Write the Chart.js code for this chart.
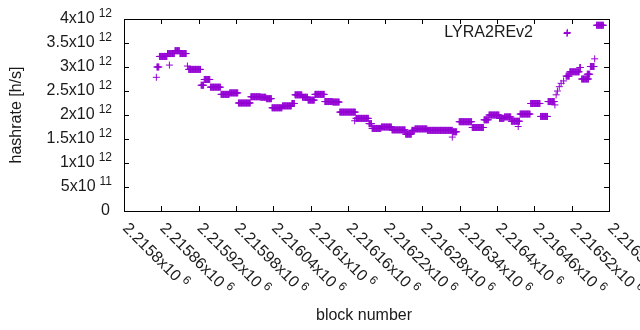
<!DOCTYPE html>
<html>
<head>
<meta charset="utf-8">
<script src="https://cdn.jsdelivr.net/npm/chart.js@4/dist/chart.umd.min.js"></script>
<style>
  html, body { margin: 0; padding: 0; background: #fff; }
  #wrap { width: 640px; height: 330px; position: relative; }
</style>
</head>
<body>
<div id="wrap"><canvas id="c"></canvas></div>
<script>
// LYRA2REv2 hashrate per block, gnuplot-style scatter of "+" marks.
// The hashrate stays flat for runs of blocks, so the data is kept as runs
// (offset from block 2215800, first block, last block, value in 10^12 h/s).
const seriesLabel = 'LYRA2REv2';
const blockBase = 2215800;
const runStart = [52, 53, 57, 70, 73, 82, 90, 102, 104, 124, 129, 139, 156, 170, 184, 204, 220, 229,
  238, 255, 270, 275, 287, 296, 307, 323, 336, 347, 371, 373, 394, 399, 414, 431, 453, 463, 468, 488,
  528, 529, 539, 560, 579, 587, 604, 612, 623, 634, 637, 654, 670, 682, 693, 695, 697, 700, 703, 707,
  711, 717, 733, 713, 736, 745, 750, 757, 760];
const runEnd = [52, 56, 69, 81, 73, 89, 100, 102, 123, 128, 138, 155, 169, 183, 203, 219, 228, 237,
  254, 269, 274, 286, 295, 306, 322, 335, 346, 372, 371, 393, 398, 413, 430, 452, 462, 467, 487, 528,
  528, 535, 559, 578, 586, 603, 611, 622, 636, 634, 653, 669, 681, 692, 693, 695, 697, 700, 703, 707,
  716, 732, 734, 713, 747, 749, 756, 757, 771];
const runValue = [2.785, 3.00, 3.22, 3.28, 3.04, 3.34, 3.28, 3.02, 2.95, 2.62, 2.74, 2.58, 2.43, 2.46,
  2.25, 2.38, 2.37, 2.34, 2.15, 2.19, 2.24, 2.42, 2.37, 2.31, 2.43, 2.28, 2.27, 2.06, 1.88, 1.93, 1.82,
  1.72, 1.75, 1.69, 1.60, 1.68, 1.71, 1.68, 1.54, 1.65, 1.86, 1.74, 1.90, 2.00, 1.93, 1.96, 1.87, 1.76,
  2.02, 2.24, 1.97, 2.28, 2.21, 2.42, 2.50, 2.59, 2.66, 2.71, 2.81, 2.90, 2.99, 3.72, 2.75, 2.85, 3.01,
  3.17, 3.87];

const xTicks = [2215800, 2215860, 2215920, 2215980, 2216040, 2216100, 2216160, 2216220, 2216280,
  2216340, 2216400, 2216460, 2216520, 2216580];
const xTickText = ['2.2158', '2.21586', '2.21592', '2.21598', '2.21604', '2.2161', '2.21616', '2.21622',
  '2.21628', '2.21634', '2.2164', '2.21646', '2.21652', '2.21658'];
const yTicks = [0, 5e11, 1e12, 1.5e12, 2e12, 2.5e12, 3e12, 3.5e12, 4e12];
const yTickText = ['0', '5x10', '1x10', '1.5x10', '2x10', '2.5x10', '3x10', '3.5x10', '4x10'];
const yTickExp = ['', '11', '12', '12', '12', '12', '12', '12', '12'];

const purple = '#9400d3';
const FONT = '"Liberation Sans", Arial, sans-serif';

// one point per block inside each run
const points = [];
for (let i = 0; i < runStart.length; i++) {
  for (let b = runStart[i]; b <= runEnd[i]; b++) {
    points.push({ x: blockBase + b, y: runValue[i] * 1e12 });
  }
}

// gnuplot look: box border, inward ticks, enhanced-text tick labels, key
const gnuplotFrame = {
  id: 'gnuplotFrame',
  afterDraw(chart) {
    const ctx = chart.ctx;
    const a = chart.chartArea;
    const xs = chart.scales.x, ys = chart.scales.y;
    ctx.save();
    ctx.strokeStyle = '#000';
    ctx.lineWidth = 1;
    ctx.strokeRect(a.left + 0.5, a.top + 0.5, a.right - a.left, a.bottom - a.top);

    ctx.beginPath();
    for (const v of yTicks) {
      const y = Math.round(ys.getPixelForValue(v)) + 0.5;
      ctx.moveTo(a.left, y); ctx.lineTo(a.left + 5, y);
      ctx.moveTo(a.right, y); ctx.lineTo(a.right - 5, y);
    }
    for (const v of xTicks) {
      const x = Math.round(xs.getPixelForValue(v)) + 0.5;
      ctx.moveTo(x, a.bottom); ctx.lineTo(x, a.bottom - 5);
      ctx.moveTo(x, a.top); ctx.lineTo(x, a.top + 5);
    }
    ctx.stroke();

    ctx.fillStyle = '#1a1a1a';
    ctx.textBaseline = 'middle';
    // y labels, right aligned with superscript exponent
    yTicks.forEach((v, i) => {
      const y = ys.getPixelForValue(v);
      if (!yTickExp[i]) {
        ctx.font = '16px ' + FONT;
        ctx.textAlign = 'right';
        ctx.fillText(yTickText[i], 110, y);
        return;
      }
      ctx.font = '12px ' + FONT;
      const w = ctx.measureText(yTickExp[i]).width;
      ctx.textAlign = 'left';
      ctx.fillText(yTickExp[i], 112 - w, y - 5);
      ctx.font = '16px ' + FONT;
      ctx.textAlign = 'right';
      ctx.fillText(yTickText[i], 112 - w - 4, y);
    });

    // x labels rotated 45 degrees clockwise
    xTicks.forEach((v, i) => {
      const x = xs.getPixelForValue(v);
      ctx.save();
      ctx.translate(x + 1, a.bottom + 15);
      ctx.rotate(Math.PI / 4);
      ctx.textAlign = 'left';
      ctx.font = '16px ' + FONT;
      const s = xTickText[i] + 'x10';
      ctx.fillText(s, 0, 0);
      const w = ctx.measureText(s).width;
      ctx.font = '12px ' + FONT;
      ctx.fillText('6', w + 4, -5);
      ctx.restore();
    });

    // axis titles
    ctx.font = '16px ' + FONT;
    ctx.textAlign = 'center';
    ctx.fillText('block number', 364, 316);
    ctx.save();
    ctx.translate(17, 115);
    ctx.rotate(-Math.PI / 2);
    ctx.fillText('hashrate [h/s]', 0, 0);
    ctx.restore();

    // key
    ctx.textAlign = 'right';
    ctx.fillText(chart.data.datasets[0].label, 533, 33);
    ctx.strokeStyle = purple;
    ctx.beginPath();
    ctx.moveTo(563.5, 33.5); ctx.lineTo(570.5, 33.5);
    ctx.moveTo(567, 30); ctx.lineTo(567, 37);
    ctx.stroke();
    ctx.restore();
  }
};

new Chart(document.getElementById('c'), {
  type: 'scatter',
  data: {
    datasets: [{
      label: seriesLabel,
      data: points,
      pointStyle: 'cross',
      pointRadius: 3.5,
      pointBorderWidth: 1,
      borderColor: purple,
      backgroundColor: purple
    }]
  },
  options: {
    responsive: true,
    maintainAspectRatio: false,
    animation: false,
    layout: { padding: { left: 124, right: 31, top: 19, bottom: 119 } },
    plugins: { legend: { display: false }, tooltip: { enabled: false } },
    scales: {
      x: { type: 'linear', display: false, min: 2215800, max: 2216580 },
      y: { display: false, min: 0, max: 4e12 }
    }
  },
  plugins: [gnuplotFrame]
});
</script>
</body>
</html>
